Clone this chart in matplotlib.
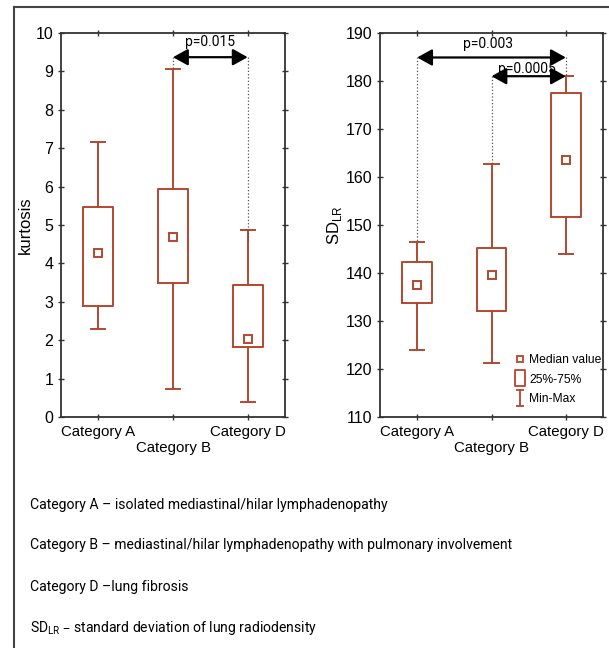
import matplotlib
matplotlib.use("Agg")
import matplotlib.pyplot as plt
from matplotlib.lines import Line2D
from matplotlib.path import Path

categories = ["Category A", "Category B", "Category D"]

# kurtosis
kurt_min = [2.28, 0.72, 0.40]
kurt_q1 = [2.90, 3.50, 1.82]
kurt_med = [4.28, 4.68, 2.03]
kurt_q3 = [5.47, 5.95, 3.43]
kurt_max = [7.15, 9.05, 4.88]

# SD_LR
sd_min = [124.0, 121.2, 144.0]
sd_q1 = [133.7, 132.0, 151.6]
sd_med = [137.5, 139.6, 163.6]
sd_q3 = [142.2, 145.2, 177.5]
sd_max = [146.5, 162.8, 181.0]

chart_font = ['Liberation Sans', 'DejaVu Sans']
caption_font = ['Roboto', 'DejaVu Sans']
plt.rcParams['font.family'] = chart_font

RED = '#b4472f'
LW = 1.4

fig = plt.figure(figsize=(6.09, 6.48), dpi=100)
fig.patch.set_facecolor('white')

# outer frame
fig.add_artist(Line2D([14/609, 14/609], [-0.1, 1 - 7/648], transform=fig.transFigure, color='#444444', lw=1.5))
fig.add_artist(Line2D([14/609, 1.1], [1 - 7/648, 1 - 7/648], transform=fig.transFigure, color='#444444', lw=1.5))

ax1 = fig.add_axes([61/609, 1 - 417/648, 224/609, 384/648])
ax2 = fig.add_axes([380/609, 1 - 417/648, 223/609, 384/648])


def draw_boxes(ax, mn, q1, med, q3, mx):
    stats = []
    for i in range(len(categories)):
        stats.append(dict(med=med[i], q1=q1[i], q3=q3[i], whislo=mn[i], whishi=mx[i], fliers=[]))
    ax.bxp(stats, positions=range(len(categories)), widths=0.4, capwidths=0.19,
           boxprops=dict(color=RED, lw=LW), whiskerprops=dict(color=RED, lw=LW),
           capprops=dict(color=RED, lw=LW), medianprops=dict(visible=False),
           showfliers=False, manage_ticks=False)
    ax.plot(range(len(categories)), med, ls='none', marker='s', ms=6, mfc='white',
            mec=RED, mew=1.4, zorder=5)


def style(ax):
    ax.set_xlim(-0.5, 2.5)
    ax.set_xticks(range(len(categories)))
    ax.set_xticklabels(['Category A', '\nCategory B', 'Category D'], fontsize=10.8)
    ax.tick_params(axis='both', top=True, right=True, direction='inout', length=5,
                   width=1, color='#333333', pad=3)
    ax.tick_params(axis='y', labelsize=11.5)
    for s in ax.spines.values():
        s.set_color('#333333')
        s.set_linewidth(1.3)


def bracket(ax, x0, x1, y, ytext, text, tx, drop0, drop1):
    ax.annotate('', xy=(x1, y), xytext=(x0, y),
                arrowprops=dict(arrowstyle='<|-|>,head_length=0.9,head_width=0.5',
                                color='black', lw=1.6, shrinkA=0, shrinkB=0))
    ax.text(tx, ytext, text, ha='center', va='center', fontsize=10, family=caption_font)
    ax.plot([x0, x0], [y, drop0], color='#555555', lw=0.9, ls=':')
    ax.plot([x1, x1], [y, drop1], color='#555555', lw=0.9, ls=':')


draw_boxes(ax1, kurt_min, kurt_q1, kurt_med, kurt_q3, kurt_max)
style(ax1)
ax1.set_ylim(0, 10)
ax1.set_yticks(range(0, 11))
ax1.set_ylabel('kurtosis', fontsize=12, labelpad=2)
bracket(ax1, 1, 2, 9.37, 9.76, 'p=0.015', 1.5, kurt_max[1], 4.6)

draw_boxes(ax2, sd_min, sd_q1, sd_med, sd_q3, sd_max)
style(ax2)
ax2.set_ylim(110, 190)
ax2.set_yticks(range(110, 191, 10))
ax2.set_ylabel('SD$_{\\mathregular{LR}}$', fontsize=12, labelpad=1)
bracket(ax2, 0, 2, 184.9, 187.7, 'p=0.003', 0.95, sd_max[0], sd_max[2])
bracket(ax2, 1, 2, 181.0, 182.6, 'p=0.0005', 1.47, 163.0, sd_max[2])

# legend
ipath = Path([(-0.5, 1), (0.5, 1), (0, 1), (0, -1), (-0.5, -1), (0.5, -1)],
             [Path.MOVETO, Path.LINETO, Path.MOVETO, Path.LINETO, Path.MOVETO, Path.LINETO])
rpath = Path([(-0.6, -1), (0.6, -1), (0.6, 1), (-0.6, 1), (-0.6, -1)],
             [Path.MOVETO, Path.LINETO, Path.LINETO, Path.LINETO, Path.CLOSEPOLY])
handles = [
    Line2D([], [], ls='none', marker='s', ms=4.5, mfc='white', mec=RED, mew=1.3),
    Line2D([], [], ls='none', marker=rpath, ms=11, mfc='white', mec=RED, mew=1.3),
    Line2D([], [], ls='none', marker=ipath, ms=11, mfc='none', mec=RED, mew=1.3),
]
leg = ax2.legend(handles, ['Median value', '25%-75%', 'Min-Max'], loc='lower left',
                 frameon=False, handlelength=0.9, handletextpad=0.3,
                 labelspacing=0.65, borderaxespad=0.0, borderpad=0.0,
                 bbox_to_anchor=(0.605, 0.03), prop={'family': chart_font, 'size': 8.7})

captions = [
    "Category A \u2013 isolated mediastinal/hilar lymphadenopathy",
    "Category B \u2013 mediastinal/hilar lymphadenopathy with pulmonary involvement",
    "Category D \u2013lung fibrosis",
    "SD$_{\\mathregular{LR}}$ \u2013 standard deviation of lung radiodensity",
]
cap_y = [505, 545, 587, 628]
texts = []
for t, y in zip(captions, cap_y):
    texts.append(fig.text(30/609, 1 - y/648, t, ha='left', va='center', fontsize=12,
                          family=caption_font))

# fit caption size so the longest line spans the same width as the reference (~480 px)
renderer = fig.canvas.get_renderer()
w = texts[1].get_window_extent(renderer).width
size = 12 * 482 / w
for t in texts:
    t.set_fontsize(size)

fig.savefig('out.png', dpi=100, facecolor='white')
